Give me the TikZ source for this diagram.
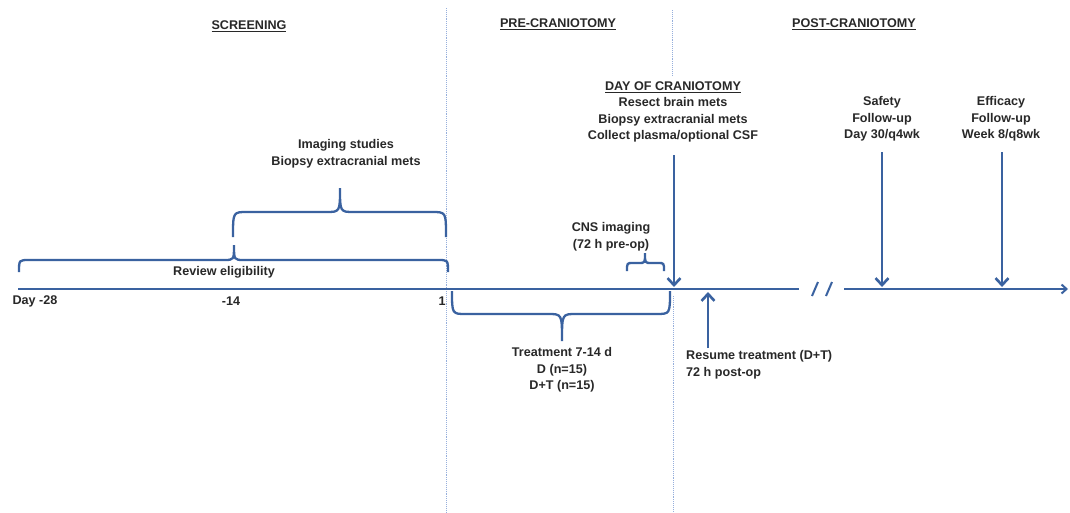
\documentclass[tikz,border=0pt]{standalone}
\usepackage{fontspec}
\setmainfont{Liberation Sans}
\usetikzlibrary{arrows.meta}
\definecolor{tlblue}{RGB}{58,98,160}
\definecolor{sepblue}{RGB}{150,175,220}
\definecolor{txt}{RGB}{40,40,40}
\newcommand\tlbrace[7]{% left x, end y, level y, tip x, tip y, right x, radius
  \draw[brc] (#1,#2) .. controls (#1,#3) .. ({#1+#7},#3) -- ({#4-#7},#3)
    .. controls (#4,#3) .. (#4,#5) .. controls (#4,#3) .. ({#4+#7},#3)
    -- ({#6-#7},#3) .. controls (#6,#3) .. (#6,#2);}
\begin{document}
\begin{tikzpicture}[x=1pt,y=-1pt,
  lbl/.style={font=\fontsize{12.6}{16.6}\selectfont\bfseries, text=txt, align=center, inner sep=0pt},
  tl/.style={draw=tlblue, line width=2.8pt},
  brc/.style={draw=tlblue, line width=2.3pt},
  arr/.style={draw=tlblue, line width=2.8pt, -{Straight Barb[length=7pt,width=13pt,line width=2.6pt]}},
  sep/.style={draw=sepblue, line width=0.9pt, densely dotted}]
\useasboundingbox (0,0) rectangle (1070,512);
\fill[white] (0,0) rectangle (1070,512);
% separators
\draw[sep] (446,8) -- (446,512);
\draw[sep] (672,10) -- (672,75);
\draw[sep] (673,296) -- (673,512);
% headers
\node[lbl] (hscr) at (249,26) {\underline{SCREENING}};
\node[lbl] (hpre) at (558,24) {\underline{PRE-CRANIOTOMY}};
\node[lbl] (hpost) at (854,24) {\underline{POST-CRANIOTOMY}};
% timeline
\coordinate (t0) at (18,289);
\coordinate (tb1) at (799,289);
\coordinate (tb2) at (844,289);
\coordinate (tend) at (1068,289);
\draw[tl] (t0) -- (tb1);
\draw[tl,-{Straight Barb[length=5pt,width=9pt,line width=2pt]}] (tb2) -- (tend);
\draw[draw=tlblue, line width=2pt] (812,296) -- (818,282);
\draw[draw=tlblue, line width=2pt] (826,296) -- (832,282);
% tick labels
\node[lbl] (d28) at (35,301) {Day -28};
\node[lbl] (d14) at (231,301) {-14};
\node[lbl] (d1) at (442,301) {1};
% braces
\tlbrace{19}{272}{260}{234}{245}{448}{10}
\node[lbl] (review) at (224,272) {Review eligibility};
\tlbrace{233}{237}{212}{340}{188}{446}{14}
\node[lbl] (imaging) at (346,154) {Imaging studies\\Biopsy extracranial mets};
\tlbrace{452}{291}{314}{562}{341}{670}{14}
\node[lbl] (treat) at (562,370) {Treatment 7-14 d\\D (n=15)\\D+T (n=15)};
\tlbrace{627}{271}{263}{645}{253}{664}{6}
\node[lbl] (cns) at (611,237) {CNS imaging\\(72 h pre-op)};
% day of craniotomy
\node[lbl] (day) at (673,112) {\underline{DAY OF CRANIOTOMY}\\Resect brain mets\\Biopsy extracranial mets\\Collect plasma/optional CSF};
\coordinate (dayA) at (674,155);
\coordinate (dayB) at (674,287);
\draw[arr] (dayA) -- (dayB);
% resume
\coordinate (resA) at (708,348);
\coordinate (resB) at (708,292);
\draw[arr] (resA) -- (resB);
\node[lbl, anchor=west, align=left] (resume) at (686,365) {Resume treatment (D+T)\\72 h post-op};
% follow-ups
\node[lbl] (safety) at (882,119) {Safety\\Follow-up\\Day 30/q4wk};
\coordinate (safA) at (882,152);
\coordinate (safB) at (882,287);
\draw[arr] (safA) -- (safB);
\node[lbl] (eff) at (1001,119) {Efficacy\\Follow-up\\Week 8/q8wk};
\coordinate (effA) at (1002,152);
\coordinate (effB) at (1002,287);
\draw[arr] (effA) -- (effB);
\end{tikzpicture}
\end{document}
